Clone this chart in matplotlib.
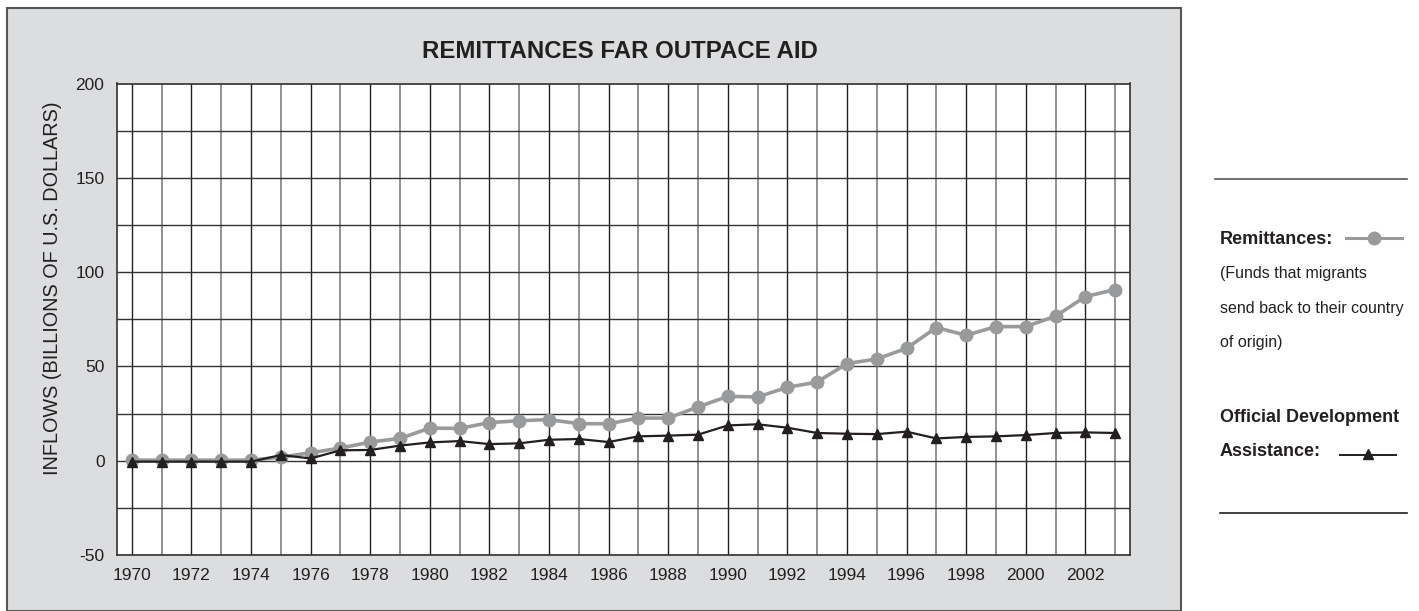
import matplotlib
matplotlib.use("Agg")
import matplotlib.pyplot as plt
from matplotlib.patches import Rectangle
from matplotlib.lines import Line2D

plt.rcParams['font.family'] = ['Liberation Sans', 'DejaVu Sans']
plt.rcParams['axes.unicode_minus'] = False

years = list(range(1970, 2004))
remittances = [0.3, 0.3, 0.3, 0.3, 0.3, 1.9, 4.2, 6.7, 9.9, 11.8,
               17.3, 17.1, 20.2, 21.2, 21.8, 19.6, 19.6, 22.6, 22.6, 28.5,
               34.1, 33.8, 38.9, 41.7, 51.5, 53.9, 59.6, 70.6, 66.5, 71.1,
               71.1, 76.6, 87.0, 90.7]
oda = [-0.5, -0.5, -0.5, -0.5, -0.5, 3.0, 1.2, 5.5, 5.7, 8.0,
       9.7, 10.4, 8.8, 9.2, 11.1, 11.5, 9.9, 12.9, 13.3, 13.8,
       18.7, 19.3, 17.5, 14.7, 14.3, 14.1, 15.4, 11.8, 12.6, 12.9,
       13.6, 14.7, 15.0, 14.7]

title = "REMITTANCES FAR OUTPACE AID"
ylabel = "INFLOWS (BILLIONS OF U.S. DOLLARS)"
note_lines = ["(Funds that migrants", "send back to their country", "of origin)"]

GRAY = "#999a9c"
BLACK = "#231f20"
PANEL = "#dcdddf"


def fx(px):
    return px / 1419


def fy(py):
    return 1 - py / 611


fig = plt.figure(figsize=(14.19, 6.11), dpi=100)
fig.patch.set_facecolor("white")

# gray background panel behind the chart
panel = Rectangle((fx(7), 0), fx(1181 - 7), (611 - 8) / 611,
                  transform=fig.transFigure, facecolor=PANEL,
                  edgecolor="#555555", linewidth=1.5, zorder=-10)
fig.patches.append(panel)

ax = fig.add_axes([fx(117), 56 / 611, fx(1130 - 117), (555 - 83.5) / 611])
ax.set_facecolor("white")

ax.plot(years, remittances, color=GRAY, lw=2.6, marker="o", ms=9,
        mec=GRAY, mfc=GRAY, zorder=3, clip_on=False)
ax.plot(years, oda, color=BLACK, lw=1.6, marker="^", ms=7.5,
        mec=BLACK, mfc=BLACK, zorder=4, clip_on=False)

ax.set_xlim(1969.5, 2003.5)
ax.set_ylim(-50, 200)
ax.set_xticks(range(1970, 2004, 2))
ax.set_xticks(range(1971, 2004, 2), minor=True)
ax.set_yticks(range(-50, 201, 50))
ax.set_yticks(range(-25, 200, 50), minor=True)
ax.grid(which="major", axis="x", color=BLACK, lw=1.0)
ax.grid(which="minor", axis="x", color="#8a8a8a", lw=1.3)
ax.grid(which="both", axis="y", color="#333333", lw=1.0)
ax.set_axisbelow(True)
ax.tick_params(which="both", length=0, labelsize=12.5, colors=BLACK, pad=9)
for s in ax.spines.values():
    s.set_color("#333333")
    s.set_linewidth(1.2)

fig.text(fx(620), fy(52), title, ha="center", va="center",
         fontsize=17.3, fontweight="bold", color=BLACK)
fig.text(fx(52), fy(288), ylabel, ha="center", va="center",
         rotation=90, fontsize=14.3, color=BLACK)

# legend panel on the right
fig.lines.append(Line2D([fx(1215), fx(1407)], [fy(179), fy(179)],
                        transform=fig.transFigure, color="#555555", lw=1.2))
fig.lines.append(Line2D([fx(1220), fx(1407)], [fy(513), fy(513)],
                        transform=fig.transFigure, color=BLACK, lw=1.2))

fig.text(fx(1220), fy(239), "Remittances:", ha="left", va="center",
         fontsize=13, fontweight="bold", color=BLACK)
fig.lines.append(Line2D([fx(1346), fx(1402)], [fy(238), fy(238)],
                        transform=fig.transFigure, color=GRAY, lw=2.2))
fig.lines.append(Line2D([fx(1374)], [fy(238)], transform=fig.transFigure,
                        color=GRAY, marker="o", ms=9, lw=0))
for i, line in enumerate(note_lines):
    fig.text(fx(1220), fy(274 + 34.5 * i), line, ha="left", va="center",
             fontsize=11.5, color=BLACK)

fig.text(fx(1220), fy(418), "Official Development", ha="left", va="center",
         fontsize=13, fontweight="bold", color=BLACK)
fig.text(fx(1220), fy(452), "Assistance:", ha="left", va="center",
         fontsize=13, fontweight="bold", color=BLACK)
fig.lines.append(Line2D([fx(1340), fx(1396)], [fy(455), fy(455)],
                        transform=fig.transFigure, color=BLACK, lw=1.4))
fig.lines.append(Line2D([fx(1368)], [fy(454)], transform=fig.transFigure,
                        color=BLACK, marker="^", ms=6.5, lw=0))

fig.savefig("out.png", dpi=100)
